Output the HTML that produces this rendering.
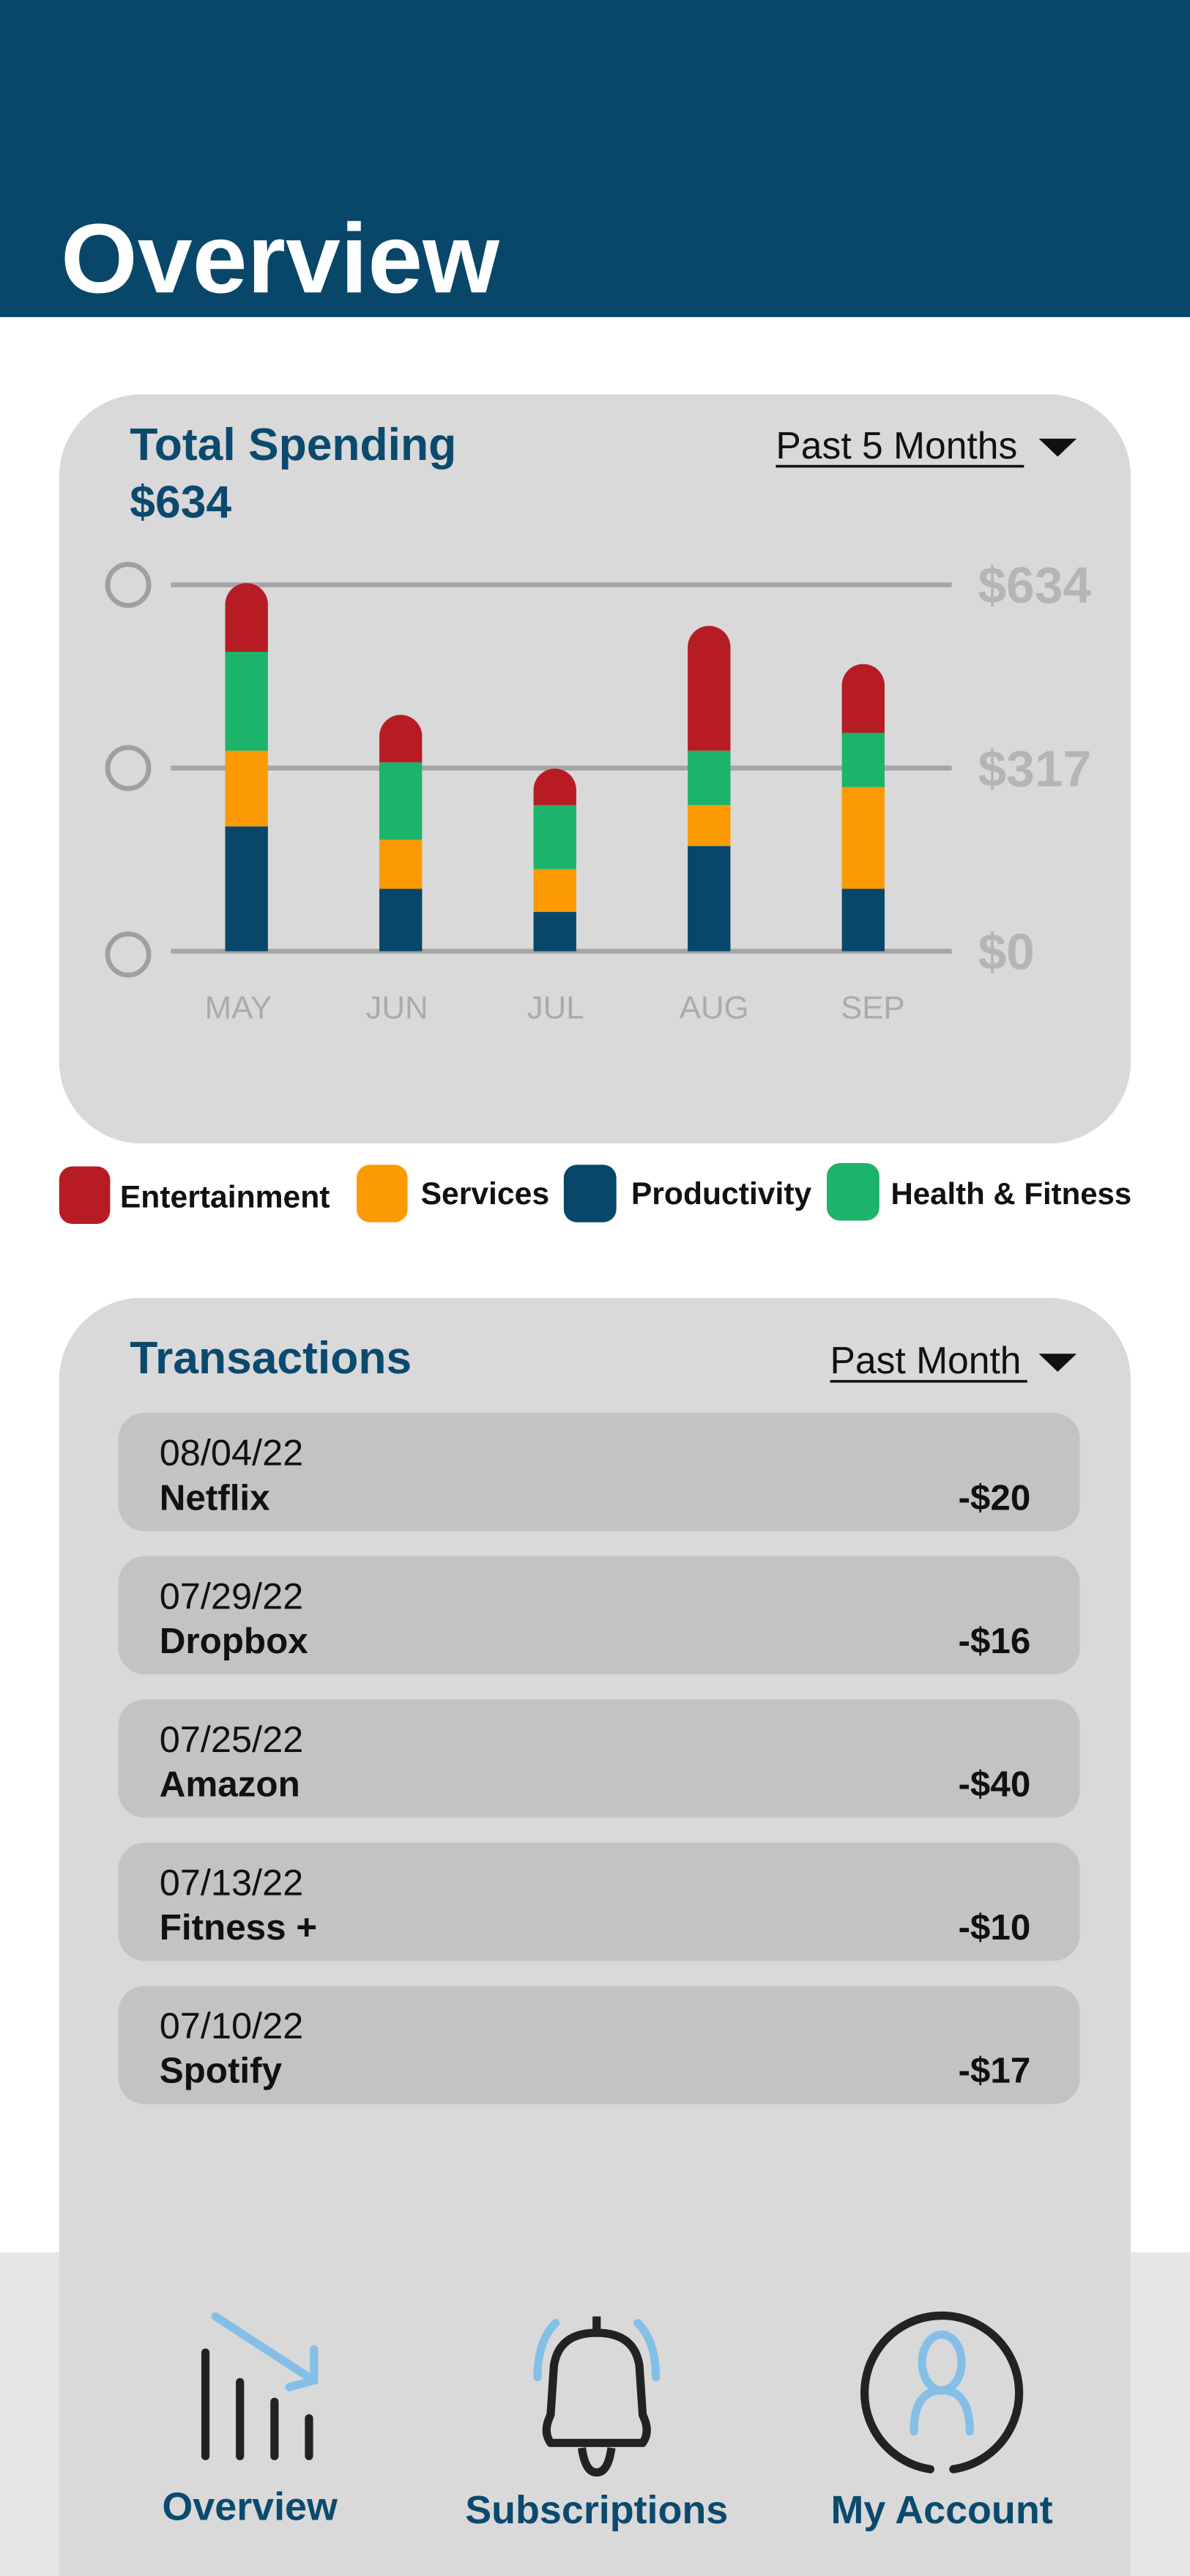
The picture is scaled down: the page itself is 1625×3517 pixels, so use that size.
<!DOCTYPE html>
<html><head><meta charset="utf-8"><style>
html,body{margin:0;padding:0;background:#fff;}
svg{display:block;font-family:"Liberation Sans",sans-serif;}
</style></head><body>
<svg id="page" width="1625" height="3517" viewBox="0 0 724 1568" preserveAspectRatio="none">
<rect x="0" y="0" width="724" height="1568" fill="#ffffff"/>
<rect x="0" y="1371" width="724" height="197" fill="#e6e6e6"/>
<rect x="0" y="0" width="724" height="193" fill="#08476a"/>
<text x="37" y="178" font-size="60" font-weight="bold" fill="#ffffff">Overview</text>

<g>
<rect x="36" y="240" width="652" height="456" rx="50" fill="#d9d9d9"/>
<text x="79" y="280" font-size="27.8" font-weight="bold" fill="#0b4a6e">Total Spending</text>
<text x="79" y="315" font-size="27.8" font-weight="bold" fill="#0b4a6e">$634</text>
<g>
<text x="472" y="279" font-size="23" fill="#111">Past 5 Months</text>
<rect x="472" y="283" width="151" height="1.6" fill="#111"/>
<polygon points="632,267 655,267 643.5,278" fill="#111"/>
</g>
<g id="chart"></g>
</g>

<g>
<g><rect x="36" y="710" width="31" height="35" rx="8" fill="#b71c24"/><text x="73" y="735" font-size="19" font-weight="bold" fill="#111">Entertainment</text></g>
<g><rect x="217" y="709" width="31" height="35" rx="8" fill="#fc9a02"/><text x="256" y="733" font-size="19" font-weight="bold" fill="#111">Services</text></g>
<g><rect x="343" y="709" width="32" height="35" rx="8" fill="#08476a"/><text x="384" y="733" font-size="19" font-weight="bold" fill="#111">Productivity</text></g>
<g><rect x="503" y="708" width="32" height="35" rx="8" fill="#1cb36b"/><text x="542" y="733" font-size="18.7" font-weight="bold" fill="#111">Health &amp; Fitness</text></g>
</g>

<g>
<rect x="36" y="790" width="652" height="830" rx="50" fill="#d9d9d9"/>
<text x="79" y="836" font-size="27.8" font-weight="bold" fill="#0b4a6e">Transactions</text>
<g>
<text x="505" y="836" font-size="23" fill="#111">Past Month</text>
<rect x="505" y="840" width="120" height="1.6" fill="#111"/>
<polygon points="632,824 655,824 643.5,835" fill="#111"/>
</g>
<g id="rows"></g>
</g>

<g>
<g>
<g stroke="#222" stroke-width="5" stroke-linecap="round">
<line x1="125" y1="1432" x2="125" y2="1495"/><line x1="146" y1="1450" x2="146" y2="1495"/><line x1="167" y1="1462" x2="167" y2="1495"/><line x1="188" y1="1472" x2="188" y2="1495"/>
</g>
<g stroke="#85bfe8" stroke-width="5" stroke-linecap="round" fill="none">
<line x1="131" y1="1410" x2="191" y2="1449"/><polyline points="191,1430 191,1449 176,1453"/>
</g>
<text x="152" y="1534" font-size="24" font-weight="bold" fill="#0b4a6e" text-anchor="middle">Overview</text>
</g>
<g>
<path d="M363 1410 V1418 M335 1487 Q330 1480 335 1470 L337 1440 Q340 1420 363 1420 Q386 1420 389 1440 L391 1470 Q396 1480 391 1487 Z" stroke="#222" stroke-width="5" fill="none" stroke-linejoin="round"/>
<path d="M354 1490 Q356 1505 363 1505 Q370 1505 372 1490" stroke="#222" stroke-width="5" fill="none"/>
<path d="M327 1447 Q327 1425 338 1414 M399 1447 Q399 1425 388 1414" stroke="#85bfe8" stroke-width="5" fill="none" stroke-linecap="round"/>
<text x="363" y="1536" font-size="24" font-weight="bold" fill="#0b4a6e" text-anchor="middle">Subscriptions</text>
</g>
<g>
<path d="M566 1503 A47 47 0 1 1 580 1503" stroke="#222" stroke-width="5" fill="none" stroke-linecap="round"/>
<ellipse cx="573" cy="1438" rx="12" ry="17" stroke="#85bfe8" stroke-width="5" fill="none"/>
<path d="M556 1480 Q556 1455 573 1455 Q590 1455 590 1480" stroke="#85bfe8" stroke-width="5" fill="none" stroke-linecap="round"/>
<text x="573" y="1536" font-size="24" font-weight="bold" fill="#0b4a6e" text-anchor="middle">My Account</text>
</g>
</g>
</svg>
<script>
var months = ["MAY","JUN","JUL","AUG","SEP"];
var productivity = [216,108,68,182,108];
var services = [131,85,74,71,176];
var health = [171,134,111,94,94];
var entertainment = [119,82,63,216,119];
var tickValues = [0,317,634];
var tickLabels = ["$0","$317","$634"];

var NS = "http://www.w3.org/2000/svg";
var chart = document.getElementById("chart");
var y0 = 579, y1 = 356, maxV = 634;
function yScale(v){ return y0 - (v / maxV) * (y0 - y1); }
function xCenter(i){ return 150 + i * 93.8; }
var barW = 26;
function mk(tag, attrs){ var e = document.createElementNS(NS, tag); for (var k in attrs) e.setAttribute(k, attrs[k]); chart.appendChild(e); return e; }

tickValues.forEach(function(v, i){
  var y = yScale(v);
  var l = mk("line", {x1:104, x2:579, y1:y, y2:y, stroke:"#a6a6a6", "stroke-width":3});
  
  
  var c = mk("circle", {cx:78, cy:y + (i===0?2:0), r:12.5, fill:"none", stroke:"#a0a0a0", "stroke-width":3});
  
  
  var t = mk("text", {x:595, y:y + 11, "font-size":31, "font-weight":"bold", fill:"#b5b5b5"});
  t.textContent = tickLabels[i];
  
  
});

var series = [[productivity,"#08476a"],[services,"#fc9a02"],[health,"#1cb36b"],[entertainment,"#b71c24"]];
months.forEach(function(m, i){
  var cx = xCenter(i), base = 0;
  series.forEach(function(s, si){
    var v = s[0][i];
    var yb = yScale(base), yt = yScale(base + v);
    var el;
    if (si === series.length - 1) {
      var r = barW/2, x0 = cx - r, x1 = cx + r;
      el = mk("path", {d:"M"+x0+" "+yb+" V"+(yt+r)+" A"+r+" "+r+" 0 0 1 "+x1+" "+(yt+r)+" V"+yb+" Z", fill:s[1]});
    } else {
      el = mk("rect", {x:cx-barW/2, y:yt, width:barW, height:yb-yt, fill:s[1]});
    }
    
    
    base += v;
  });
  var t = mk("text", {x:cx - 5 + i * 2.7, y:620, "font-size":19.5, fill:"#ababab", "text-anchor":"middle"});
  t.textContent = m;
  
  
});

var dates = ["08/04/22","07/29/22","07/25/22","07/13/22","07/10/22"];
var names = ["Netflix","Dropbox","Amazon","Fitness +","Spotify"];
var amounts = ["-$20","-$16","-$40","-$10","-$17"];
var rows = document.getElementById("rows");
dates.forEach(function(d, i){
  var top = 860 + i * 87.2;
  var g = document.createElementNS(NS, "g");
  
  
  g.innerHTML = '<rect x="72" y="'+top+'" width="585" height="72" rx="16" fill="#c4c3c1"/>' +
    '<text x="97" y="'+(top+32)+'" font-size="22.5" fill="#111">'+d+'</text>' +
    '<text x="97" y="'+(top+59)+'" font-size="22" font-weight="bold" fill="#111">'+names[i].replace("&","&amp;")+'</text>' +
    '<text x="627" y="'+(top+59)+'" font-size="22" font-weight="bold" fill="#111" text-anchor="end">'+amounts[i]+'</text>';
  rows.appendChild(g);
});
</script>
</body></html>
